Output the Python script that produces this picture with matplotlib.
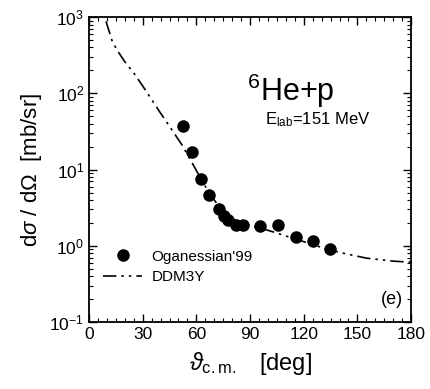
import numpy as np
import matplotlib.pyplot as plt
from matplotlib.ticker import MultipleLocator, LogLocator, NullFormatter

plt.rcParams['font.family'] = ['Liberation Sans', 'DejaVu Sans']
plt.rcParams['mathtext.fontset'] = 'custom'
plt.rcParams['mathtext.rm'] = 'Liberation Sans'
plt.rcParams['mathtext.it'] = 'Liberation Sans:italic'

# DATA: Oganessian'99 points
exp_theta = [52.5, 57.6, 62.4, 67.2, 72.6, 75.6, 77.5, 82.4, 86.0, 95.6, 105.5, 115.5, 125.4, 134.7]
exp_sigma = [37.0, 17.0, 7.6, 4.7, 3.0, 2.5, 2.2, 1.9, 1.85, 1.82, 1.85, 1.32, 1.16, 0.92]

# DDM3Y curve
th_curve = [9.5, 11, 13, 16, 20, 25, 30, 34, 40, 45, 52, 57, 62, 67, 73, 80, 90, 100, 114, 129, 140, 155, 170, 180]
sig_curve = [880, 680, 480, 360, 260, 185, 125, 90, 55, 37, 21, 13, 8.0, 5.0, 3.2, 2.25, 1.85, 1.6, 1.26, 0.97, 0.82, 0.69, 0.63, 0.61]

fig = plt.figure(figsize=(4.30, 3.89), dpi=100)
ax = fig.add_axes([0.207, 0.172, 0.749, 0.784])

ax.semilogy(th_curve, sig_curve, color='black', lw=1.2,
            linestyle=(0, (8, 3, 1.5, 3, 1.5, 3)), label='DDM3Y')
ax.semilogy(exp_theta, exp_sigma, 'o', color='black', ms=8, label="Oganessian'99")

ax.set_xlim(0, 180)
ax.set_ylim(0.1, 1000)
ax.xaxis.set_major_locator(MultipleLocator(30))
ax.xaxis.set_minor_locator(MultipleLocator(5))
ax.yaxis.set_major_locator(LogLocator(base=10, numticks=10))
ax.yaxis.set_minor_locator(LogLocator(base=10, subs=np.arange(2, 10), numticks=10))
ax.yaxis.set_minor_formatter(NullFormatter())
ax.tick_params(which='both', direction='in', top=True, right=True, labelsize=12.5)
ax.tick_params(which='major', length=6, width=1)
ax.tick_params(which='minor', length=3, width=0.8)
for s in ax.spines.values():
    s.set_linewidth(1.3)

ax.set_ylabel(r'd$\sigma$ / d$\Omega$  [mb/sr]', fontsize=16, labelpad=4)
ax.set_xlabel(r'$\vartheta_{\rm c.m.}$   [deg]', fontsize=17, labelpad=6)

ax.text(0.49, 0.725, r'$^{6}$He+p', transform=ax.transAxes, fontsize=22)
ax.text(0.545, 0.65, r'E$_{\rm lab}$=151 MeV', transform=ax.transAxes, fontsize=12)
ax.text(0.975, 0.06, '(e)', transform=ax.transAxes, fontsize=13, ha='right')

h, l = ax.get_legend_handles_labels()
ax.legend(h[::-1], l[::-1], loc='lower left', bbox_to_anchor=(0.0, 0.08),
          frameon=False, fontsize=11, handlelength=2.6, handletextpad=0.6,
          labelspacing=0.4, numpoints=1)

fig.savefig('out.png', dpi=100)
